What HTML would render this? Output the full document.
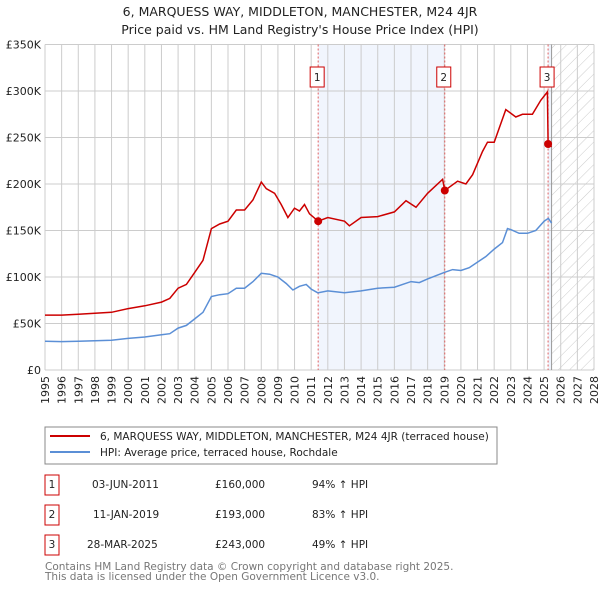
<!DOCTYPE html>
<html><head><meta charset="utf-8"><style>
body{margin:0;background:#fff;font-family:"DejaVu Sans","Liberation Sans",sans-serif;}
svg text{font-family:"DejaVu Sans","Liberation Sans",sans-serif;}
</style></head><body>
<svg id="c" width="600" height="590" xmlns="http://www.w3.org/2000/svg">
<text x="300" y="16" text-anchor="middle" font-size="12.5" fill="#222">6, MARQUESS WAY, MIDDLETON, MANCHESTER, M24 4JR</text>
<text x="300" y="34" text-anchor="middle" font-size="12.5" fill="#222">Price paid vs. HM Land Registry's House Price Index (HPI)</text>
<defs><pattern id="hatch" width="8" height="8" patternUnits="userSpaceOnUse" patternTransform="rotate(45)"><line x1="0" y1="0" x2="0" y2="8" stroke="#ccc" stroke-width="1"/></pattern></defs>
<g id="plot"></g>
<rect x="45" y="427" width="452" height="37" fill="none" stroke="#888"/>
<line x1="50" y1="436" x2="90" y2="436" stroke="#cc0000" stroke-width="2"/>
<text x="100" y="440" font-size="10.5" fill="#222">6, MARQUESS WAY, MIDDLETON, MANCHESTER, M24 4JR (terraced house)</text>
<line x1="50" y1="452" x2="90" y2="452" stroke="#5b8fd6" stroke-width="2"/>
<text x="100" y="456" font-size="10.5" fill="#222">HPI: Average price, terraced house, Rochdale</text>
<g font-size="10.5" fill="#222">
<rect x="45" y="475" width="14" height="20" fill="none" stroke="#cc0000"/><text x="52" y="488" text-anchor="middle">1</text>
<text x="92" y="488">03-JUN-2011</text><text x="215" y="488">£160,000</text><text x="312" y="488">94% ↑ HPI</text>
<rect x="45" y="505" width="14" height="20" fill="none" stroke="#cc0000"/><text x="52" y="518" text-anchor="middle">2</text>
<text x="93" y="518">11-JAN-2019</text><text x="215" y="518">£193,000</text><text x="312" y="518">83% ↑ HPI</text>
<rect x="45" y="535" width="14" height="20" fill="none" stroke="#cc0000"/><text x="52" y="548" text-anchor="middle">3</text>
<text x="87" y="548">28-MAR-2025</text><text x="215" y="548">£243,000</text><text x="312" y="548">49% ↑ HPI</text>
</g>
<text x="45" y="570" font-size="10.5" fill="#777">Contains HM Land Registry data © Crown copyright and database right 2025.</text>
<text x="45" y="580" font-size="10.5" fill="#777">This data is licensed under the Open Government Licence v3.0.</text>
</svg>
<script>
const yearTicks=[1995,1996,1997,1998,1999,2000,2001,2002,2003,2004,2005,2006,2007,2008,2009,2010,2011,2012,2013,2014,2015,2016,2017,2018,2019,2020,2021,2022,2023,2024,2025,2026,2027,2028];
const priceTicks=[0,50,100,150,200,250,300,350];
const priceLabels=["£0","£50K","£100K","£150K","£200K","£250K","£300K","£350K"];
const hpiT=[1995,1996,1997,1998,1999,2000,2001,2002,2002.5,2003,2003.5,2004,2004.5,2005,2005.5,2006,2006.5,2007,2007.5,2008,2008.5,2009,2009.5,2009.9,2010.3,2010.7,2011,2011.4,2012,2013,2014,2015,2016,2017,2017.5,2018,2019,2019.5,2020,2020.5,2021,2021.5,2022,2022.5,2022.8,2023,2023.5,2024,2024.5,2025,2025.25,2025.45];
const hpiV=[31,30.5,31,31.5,32,34,35.5,38,39,45,48,55,62,79,81,82,88,88,95,104,103,100,93,86,90,92,87,83,85,83,85,88,89,95,94,98,105,108,107,110,116,122,130,137,152,151,147,147,150,160,163,158];
const redT=[1995,1996,1997,1998,1999,2000,2001,2002,2002.5,2003,2003.5,2004,2004.5,2005,2005.5,2006,2006.5,2007,2007.5,2008,2008.3,2008.8,2009.2,2009.6,2010,2010.3,2010.6,2010.9,2011.42,2012,2013,2013.3,2014,2015,2016,2016.7,2017.3,2018,2018.9,2019.03,2019.8,2020.3,2020.7,2021.3,2021.6,2022,2022.7,2023.3,2023.7,2024.3,2024.8,2025.2,2025.24,2025.45];
const redV=[59,59,60,61,62,66,69,73,77,88,92,105,118,152,157,160,172,172,183,202,195,190,178,164,174,171,178,168,160,164,160,155,164,165,170,182,175,190,205,193,203,200,210,235,245,245,280,272,275,275,290,299,243,240];
const saleT=[2011.42,2019.03,2025.24];
const saleV=[160,193,243];
const L=45,R=594,T=44.5,B=370;
const X=t=>L+(t-1995)/(2028-1995)*(R-L);
const Y=v=>B-v/350*(B-T);
const g=document.getElementById('plot');
const NS='http://www.w3.org/2000/svg';
function mk(tag,a,p){const e=document.createElementNS(NS,tag);for(const k in a)e.setAttribute(k,a[k]);(p||g).appendChild(e);return e;}
let e=mk('rect',{x:X(saleT[0]),y:T,width:X(saleT[1])-X(saleT[0]),height:B-T,fill:'#eef3fc',opacity:0.8});


e=mk('rect',{x:X(saleT[2]),y:T,width:X(2025.45)-X(saleT[2]),height:B-T,fill:'#eef3fc'});


e=mk('rect',{x:X(2025.45),y:T,width:R-X(2025.45),height:B-T,fill:'url(#hatch)'});


yearTicks.forEach(y=>{mk('line',{x1:X(y),x2:X(y),y1:T,y2:B,stroke:'#ccc','stroke-width':1});
 e=mk('text',{x:0,y:0,'font-size':11,fill:'#222','text-anchor':'end',transform:`translate(${X(y)+4},${B+6}) rotate(-90)`});e.textContent=y;
 
 });
priceTicks.forEach((v,i)=>{mk('line',{x1:L,x2:R,y1:Y(v),y2:Y(v),stroke:'#ccc','stroke-width':1});
 e=mk('text',{x:L-4,y:Y(v)+4,'font-size':11,fill:'#222','text-anchor':'end'});e.textContent=priceLabels[i];
 
 });
mk('line',{x1:X(2025.45),x2:X(2025.45),y1:T,y2:B,stroke:'#999','stroke-width':1});
saleT.forEach((t,i)=>{e=mk('line',{x1:X(t),x2:X(t),y1:T,y2:B,stroke:'#e06060','stroke-width':1,'stroke-dasharray':'2,2'});
 
 
 e=mk('rect',{x:X(t)-8,y:67,width:14,height:20,fill:'#fff',stroke:'#cc0000'});
 
 
 e=mk('text',{x:X(t)-1,y:81,'font-size':10.5,fill:'#222','text-anchor':'middle'});e.textContent=i+1;});
const pts=(ts,vs)=>ts.map((t,i)=>X(t).toFixed(1)+','+Y(vs[i]).toFixed(1)).join(' ');
e=mk('polyline',{points:pts(hpiT,hpiV),fill:'none',stroke:'#5b8fd6','stroke-width':1.5});


e=mk('polyline',{points:pts(redT,redV),fill:'none',stroke:'#cc0000','stroke-width':1.5});


saleT.forEach((t,i)=>{e=mk('circle',{cx:X(t),cy:Y(saleV[i]),r:4,fill:'#cc0000'});
 
 });
</script>
</body></html>
